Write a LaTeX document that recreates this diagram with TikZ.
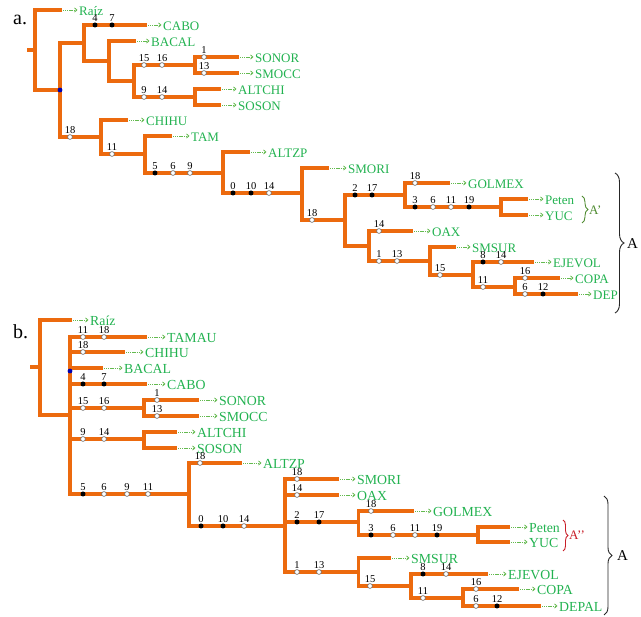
\documentclass[tikz,border=0pt]{standalone}
\usepackage{fontspec}
\setmainfont{Liberation Serif}
\usetikzlibrary{arrows.meta,decorations.pathreplacing}
\definecolor{brorange}{RGB}{236,106,14}
\definecolor{txtgreen}{RGB}{34,178,80}
\definecolor{arrgreen}{RGB}{100,186,80}
\definecolor{bracegreen}{RGB}{80,140,50}
\definecolor{bracered}{RGB}{200,30,40}
\tikzset{
 br/.style={draw=brorange,line width=3.2pt,line join=miter},
 wdot/.style={circle,draw=gray!80!black,fill=white,line width=0.6pt,inner sep=0pt,minimum size=4.8pt},
 bdot/.style={circle,fill=black,inner sep=0pt,minimum size=5pt},
 udot/.style={circle,fill=blue!70!black,inner sep=0pt,minimum size=4.8pt},
 num/.style={font=\fontsize{10.5}{11}\selectfont,inner sep=0pt,anchor=base},
 leaftxt/.style={font=\fontsize{13}{14}\selectfont,text=txtgreen,inner sep=0pt,anchor=base west},
 leaftxtb/.style={leaftxt,font=\fontsize{13.8}{15}\selectfont},
 arr/.style={draw=arrgreen,line width=0.8pt,dash pattern=on 1.2pt off 0.9pt,-{Straight Barb[length=2.4pt,width=4.2pt]}},
 panel/.style={font=\fontsize{20}{22}\selectfont,inner sep=0pt,anchor=base west},
 bigbrace/.style={decorate,decoration={brace,amplitude=#1},line width=0.9pt},
 bracetxt/.style={inner sep=0pt,anchor=west},
}
\newcounter{dn}
\newcommand\leafA[5]{%
 \coordinate (#1) at (#2,#3);
 \node[leaftxt] (#1t) at (#4,#3+5.5) {#5};
 \path (#1 -| #1t.west) coordinate (#1a);
 \draw[arr] ([xshift=1pt]#1) -- ([xshift=-1.5pt]#1a);}
\newcommand\leafB[5]{%
 \coordinate (#1) at (#2,#3);
 \node[leaftxtb] (#1t) at (#4,#3+5.8) {#5};
 \path (#1 -| #1t.west) coordinate (#1a);
 \draw[arr] ([xshift=1pt]#1) -- ([xshift=-1.5pt]#1a);}
\newcommand\dotW[3]{\stepcounter{dn}%
 \node[wdot] (d\arabic{dn}) at (#1,#2) {};
 \node[num] (l\arabic{dn}) at (#1,#2-3.8) {#3};}
\newcommand\dotB[3]{\stepcounter{dn}%
 \node[bdot] (d\arabic{dn}) at (#1,#2) {};
 \node[num] (l\arabic{dn}) at (#1,#2-3.8) {#3};}
\begin{document}
\begin{tikzpicture}[x=1pt,y=-1pt]
\useasboundingbox (0,0) rectangle (641,617);
% ---------------- panel a ----------------
\node[panel] (pa) at (13,25) {a.};
\leafA{raizA}{62}{10}{79}{Raíz}
\leafA{caboA}{147}{25}{163}{CABO}
\leafA{bacalA}{136}{41}{151}{BACAL}
\leafA{sonorA}{239}{57}{255}{SONOR}
\leafA{smoccA}{239}{73}{255}{SMOCC}
\leafA{altchiA}{221}{89}{238}{ALTCHI}
\leafA{sosonA}{221}{105}{238}{SOSON}
\leafA{chihuA}{128}{120}{146}{CHIHU}
\leafA{tamA}{172}{136}{191}{TAM}
\leafA{altzpA}{250}{152}{268}{ALTZP}
\leafA{smoriA}{329}{168}{348}{SMORI}
\leafA{golmexA}{450}{183}{468}{GOLMEX}
\leafA{petenA}{528}{199}{545}{Peten}
\leafA{yucA}{528}{215}{545}{YUC}
\leafA{oaxA}{413}{231}{432}{OAX}
\leafA{smsurA}{456}{247}{472}{SMSUR}
\leafA{ejevolA}{534}{262}{553}{EJEVOL}
\leafA{copaA}{560}{278}{575}{COPA}
\leafA{depA}{578}{294}{593}{DEP}
\coordinate (a0) at (27,50);
\coordinate (aR) at (35,50);
\coordinate (a1) at (60,90);
\coordinate (a2) at (84,43);
\coordinate (a3) at (109,61);
\coordinate (a4) at (134,81);
\coordinate (a5) at (195,65);
\coordinate (a6) at (195,97);
\coordinate (a7) at (101,137);
\coordinate (a8) at (145,154);
\coordinate (a9) at (223,173);
\coordinate (a10) at (302,193);
\coordinate (a11) at (345,220);
\coordinate (a12) at (405,195);
\coordinate (a13) at (501,207);
\coordinate (a14) at (369,246);
\coordinate (a15) at (430,261);
\coordinate (a16) at (473,275);
\coordinate (a17) at (515,287);
\draw[br] (a0) -- (aR);
\draw[br] (raizA) -| (aR) |- (a1);
\draw[br] (a2) -| (a1) |- (a7);
\draw[br] (caboA) -| (a2) |- (a3);
\draw[br] (bacalA) -| (a3) |- (a4);
\draw[br] (a5) -| (a4) |- (a6);
\draw[br] (sonorA) -| (a5) |- (smoccA);
\draw[br] (altchiA) -| (a6) |- (sosonA);
\draw[br] (chihuA) -| (a7) |- (a8);
\draw[br] (tamA) -| (a8) |- (a9);
\draw[br] (altzpA) -| (a9) |- (a10);
\draw[br] (smoriA) -| (a10) |- (a11);
\draw[br] (a12) -| (a11) |- (a14);
\draw[br] (golmexA) -| (a12) |- (a13);
\draw[br] (petenA) -| (a13) |- (yucA);
\draw[br] (oaxA) -| (a14) |- (a15);
\draw[br] (smsurA) -| (a15) |- (a16);
\draw[br] (ejevolA) -| (a16) |- (a17);
\draw[br] (copaA) -| (a17) |- (depA);
\node[udot] (ua) at (a1) {};
\dotB{95}{25}{4}\dotB{112}{25}{7}
\dotW{144}{65}{15}\dotW{162}{65}{16}
\dotW{204}{57}{1}\dotW{204}{73}{13}
\dotW{144}{97}{9}\dotW{162}{97}{14}
\dotW{70}{137}{18}
\dotW{112}{154}{11}
\dotB{155}{173}{5}\dotW{173}{173}{6}\dotW{190}{173}{9}
\dotB{233}{193}{0}\dotB{251}{193}{10}\dotW{269}{193}{14}
\dotW{312}{220}{18}
\dotB{355}{195}{2}\dotB{372}{195}{17}
\dotW{415}{183}{18}
\dotB{415}{207}{3}\dotW{433}{207}{6}\dotW{451}{207}{11}\dotB{469}{207}{19}
\dotW{379}{231}{14}
\dotW{379}{261}{1}\dotW{397}{261}{13}
\dotW{440}{275}{15}
\dotB{483}{262}{8}\dotW{501}{262}{14}
\dotW{483}{287}{11}
\dotW{525}{278}{16}
\dotW{525}{294}{6}\dotB{543}{294}{12}
\draw[bigbrace=6pt,draw=bracegreen] (582,196) -- (582,223);
\node[bracetxt,text=bracegreen,font=\fontsize{13}{14}\selectfont] (Ap) at (589,210) {A’};
\draw[bigbrace=9pt,draw=black!85] (615,173) -- (615,313);
\node[bracetxt,font=\fontsize{15}{16}\selectfont] (Aa) at (627,244) {A};
% ---------------- panel b ----------------
\node[panel] (pb) at (13,339) {b.};
\leafB{raizB}{72}{320}{90}{Raíz}
\leafB{tamauB}{147}{337}{167}{TAMAU}
\leafB{chihuB}{125}{352}{145}{CHIHU}
\leafB{bacalB}{103}{368}{124}{BACAL}
\leafB{caboB}{147}{384}{167}{CABO}
\leafB{sonorB}{199}{400}{219}{SONOR}
\leafB{smoccB}{199}{416}{219}{SMOCC}
\leafB{altchiB}{177}{432}{197}{ALTCHI}
\leafB{sosonB}{177}{448}{197}{SOSON}
\leafB{altzpB}{242}{463}{263}{ALTZP}
\leafB{smoriB}{339}{479}{357}{SMORI}
\leafB{oaxB}{339}{495}{357}{OAX}
\leafB{golmexB}{414}{511}{433}{GOLMEX}
\leafB{petenB}{510}{527}{529}{Peten}
\leafB{yucB}{510}{542}{529}{YUC}
\leafB{smsurB}{391}{558}{411}{SMSUR}
\leafB{ejevolB}{488}{574}{508}{EJEVOL}
\leafB{copaB}{519}{589}{537}{COPA}
\leafB{depalB}{541}{606}{559}{DEPAL}
\coordinate (b0) at (30,367);
\coordinate (bR) at (40,367);
\coordinate (b1) at (70,415);
\coordinate (b5) at (144,408);
\coordinate (b6) at (144,439);
\coordinate (b7) at (189,494);
\coordinate (b8) at (285,526);
\coordinate (b9) at (358.5,522);
\coordinate (b10) at (358.5,572);
\coordinate (b11) at (478,535);
\coordinate (b12) at (411,586);
\coordinate (b13) at (463,598);
\draw[br] (b0) -- (bR);
\draw[br] (raizB) -| (bR) |- (b1);
\draw[br] (tamauB) -| (b1) |- (b7);
\draw[br] (chihuB -| b1) -- (chihuB);
\draw[br] (bacalB -| b1) -- (bacalB);
\draw[br] (caboB -| b1) -- (caboB);
\draw[br] (b5 -| b1) -- (b5);
\draw[br] (b6 -| b1) -- (b6);
\draw[br] (sonorB) -| (b5) |- (smoccB);
\draw[br] (altchiB) -| (b6) |- (sosonB);
\draw[br] (altzpB) -| (b7) |- (b8);
\draw[br] (smoriB) -| (b8) |- (b10);
\draw[br] (oaxB -| b8) -- (oaxB);
\draw[br] (b9 -| b8) -- (b9);
\draw[br] (golmexB) -| (b9) |- (b11);
\draw[br] (petenB) -| (b11) |- (yucB);
\draw[br] (smsurB) -| (b10) |- (b12);
\draw[br] (ejevolB) -| (b12) |- (b13);
\draw[br] (copaB) -| (b13) |- (depalB);
\node[udot] (ub) at (70,371) {};
\dotW{83}{337}{11}\dotW{104}{337}{18}
\dotW{83}{352}{18}
\dotB{83}{384}{4}\dotB{104}{384}{7}
\dotW{83}{408}{15}\dotW{104}{408}{16}
\dotW{157}{400}{1}\dotW{157}{416}{13}
\dotW{83}{439}{9}\dotW{104}{439}{14}
\dotB{83}{494}{5}\dotW{104}{494}{6}\dotW{127}{494}{9}\dotW{148}{494}{11}
\dotW{200}{463}{18}
\dotB{201}{526}{0}\dotB{223}{526}{10}\dotW{244}{526}{14}
\dotW{297}{479}{18}\dotW{297}{495}{14}
\dotB{297}{522}{2}\dotB{319}{522}{17}
\dotW{371}{511}{18}
\dotB{371}{535}{3}\dotW{393}{535}{6}\dotW{415}{535}{11}\dotB{437}{535}{19}
\dotW{297}{572}{1}\dotW{319}{572}{13}
\dotW{370}{586}{15}
\dotB{423}{574}{8}\dotW{446}{574}{14}
\dotW{423}{598}{11}
\dotW{476}{589}{16}
\dotW{476}{606}{6}\dotB{497}{606}{12}
\draw[bigbrace=5pt,draw=bracered] (563,520) -- (563,551);
\node[bracetxt,text=bracered,font=\fontsize{13}{14}\selectfont] (App) at (569,535) {A’’};
\draw[bigbrace=8pt,draw=black!85] (604,496) -- (604,615);
\node[bracetxt,font=\fontsize{15}{16}\selectfont] (Ab) at (617,556) {A};
\end{tikzpicture}
\end{document}
